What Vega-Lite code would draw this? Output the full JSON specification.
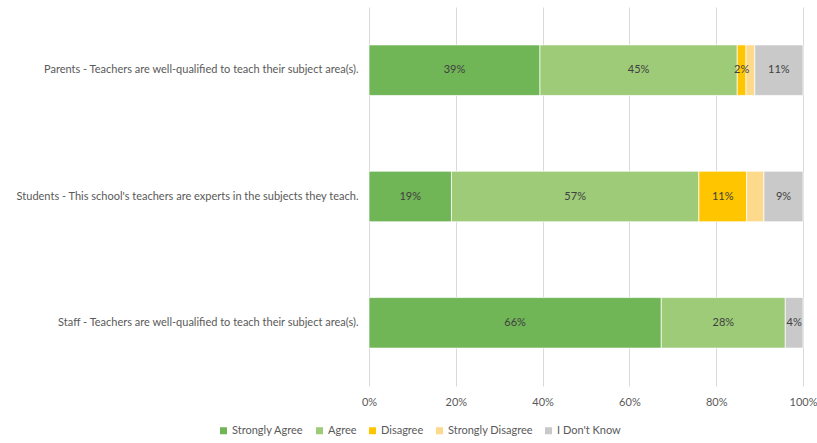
{
  "$schema": "https://vega.github.io/schema/vega-lite/v6.json",
  "width": 434,
  "height": 379,
  "autosize": {"type": "none"},
  "padding": {"left": 369, "top": 7, "right": 14, "bottom": 57},
  "background": "white",
  "config": {
    "font": "Lato",
    "view": {"stroke": null},
    "axis": {"labelFont": "Lato", "labelColor": "#595959", "labelFontSize": 11}
  },
  "data": {
    "values": [
      {"group": "Parents - Teachers are well-qualified to teach their subject area(s).", "response": "Strongly Agree", "rank": 1, "value": 39},
      {"group": "Parents - Teachers are well-qualified to teach their subject area(s).", "response": "Agree", "rank": 2, "value": 45},
      {"group": "Parents - Teachers are well-qualified to teach their subject area(s).", "response": "Disagree", "rank": 3, "value": 2},
      {"group": "Parents - Teachers are well-qualified to teach their subject area(s).", "response": "Strongly Disagree", "rank": 4, "value": 2},
      {"group": "Parents - Teachers are well-qualified to teach their subject area(s).", "response": "I Don't Know", "rank": 5, "value": 11},
      {"group": "Students - This school's teachers are experts in the subjects they teach.", "response": "Strongly Agree", "rank": 1, "value": 19},
      {"group": "Students - This school's teachers are experts in the subjects they teach.", "response": "Agree", "rank": 2, "value": 57},
      {"group": "Students - This school's teachers are experts in the subjects they teach.", "response": "Disagree", "rank": 3, "value": 11},
      {"group": "Students - This school's teachers are experts in the subjects they teach.", "response": "Strongly Disagree", "rank": 4, "value": 4},
      {"group": "Students - This school's teachers are experts in the subjects they teach.", "response": "I Don't Know", "rank": 5, "value": 9},
      {"group": "Staff - Teachers are well-qualified to teach their subject area(s).", "response": "Strongly Agree", "rank": 1, "value": 66},
      {"group": "Staff - Teachers are well-qualified to teach their subject area(s).", "response": "Agree", "rank": 2, "value": 28},
      {"group": "Staff - Teachers are well-qualified to teach their subject area(s).", "response": "I Don't Know", "rank": 5, "value": 4}
    ]
  },
  "transform": [
    {"stack": "value", "groupby": ["group"], "sort": [{"field": "rank", "order": "ascending"}], "offset": "normalize", "as": ["x0", "x1"]}
  ],
  "encoding": {
    "y": {
      "field": "group",
      "type": "nominal",
      "sort": null,
      "scale": {"paddingInner": 0.6, "paddingOuter": 0.3},
      "axis": {"title": null, "domain": false, "ticks": false, "labelPadding": 11, "labelLimit": 400}
    }
  },
  "layer": [
    {
      "mark": {"type": "bar", "stroke": "white", "strokeWidth": 0.7},
      "encoding": {
        "x": {
          "field": "x0",
          "type": "quantitative",
          "scale": {"domain": [0, 1]},
          "axis": {"title": null, "format": ".0%", "values": [0, 0.2, 0.4, 0.6, 0.8, 1], "domain": false, "ticks": false, "labelPadding": 10, "gridColor": "#d9d9d9", "gridWidth": 1, "labelFlush": false}
        },
        "x2": {"field": "x1"},
        "color": {
          "field": "response",
          "type": "nominal",
          "scale": {
            "domain": ["Strongly Agree", "Agree", "Disagree", "Strongly Disagree", "I Don't Know"],
            "range": ["#70b556", "#9dcb78", "#ffc600", "#fdd98b", "#c9c9c9"]
          },
          "legend": {
            "title": null,
            "orient": "none",
            "legendX": -151,
            "legendY": 418,
            "direction": "horizontal",
            "symbolType": "square",
            "symbolSize": 49,
            "symbolStrokeWidth": 0,
            "labelFont": "Lato",
            "labelFontSize": 11,
            "labelColor": "#595959",
            "columnPadding": 10,
            "labelOffset": 3
          }
        }
      }
    },
    {
      "transform": [
        {"filter": "datum.response !== 'Strongly Disagree'"},
        {"calculate": "(datum.x0 + datum.x1) / 2", "as": "mid"},
        {"calculate": "datum.value + '%'", "as": "label"}
      ],
      "mark": {"type": "text", "fontSize": 11, "color": "#404040", "font": "Lato"},
      "encoding": {
        "x": {"field": "mid", "type": "quantitative"},
        "text": {"field": "label", "type": "nominal"}
      }
    }
  ]
}
